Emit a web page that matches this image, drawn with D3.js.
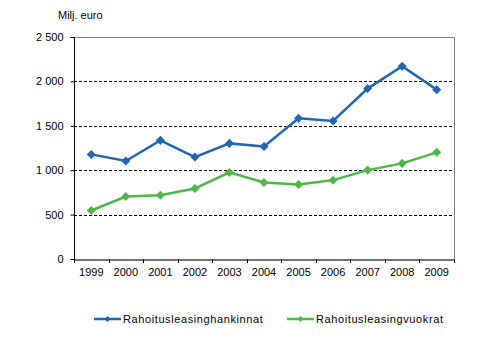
<!DOCTYPE html>
<html><head><meta charset="utf-8">
<script src="https://cdn.jsdelivr.net/npm/d3@7"></script>
<style>body{margin:0;background:#fff}svg{display:block}text{font-family:Arial,"Liberation Sans",sans-serif;font-size:11px;fill:#000}</style>
</head><body>
<svg id="c" width="494" height="355"></svg>
<script>
const years = ["1999","2000","2001","2002","2003","2004","2005","2006","2007","2008","2009"];
const hankinnat = [1178,1103,1336,1148,1302,1268,1584,1554,1919,2171,1907];
const vuokrat = [546,704,719,794,975,862,840,888,1001,1077,1201];
const yTicks = [0,500,1000,1500,2000,2500];
const seriesNames = ["Rahoitusleasinghankinnat","Rahoitusleasingvuokrat"];
const colors = ["#1f67b2","#4db848"];

const svg = d3.select("#c");
const L=74, R=454, T=37, B=259;
const x = d3.scaleBand().domain(years).range([L,R]);
const y = d3.scaleLinear().domain([0,2500]).range([B,T]);
const fmt = v => d3.format(",")(v).replace(/,/g," ");

// grid
svg.append("g").selectAll("line").data(yTicks.filter(d=>d>0&&d<2500)).join("line")
  .attr("x1",L).attr("x2",R).attr("y1",d=>Math.round(y(d))+0.5).attr("y2",d=>Math.round(y(d))+0.5)
  .attr("stroke","#000").attr("stroke-width",1).attr("stroke-dasharray","3,2");
// top & right border
svg.append("path").attr("d",`M${L},${Math.round(y(2500))+0.5}H${R+0.5}V${B}`)
  .attr("fill","none").attr("stroke","#808080").attr("stroke-width",1);

// y axis
const ya = svg.append("g").attr("transform",`translate(${L+0.5},0)`)
  .call(d3.axisLeft(y).tickValues(yTicks).tickFormat(fmt).tickSize(4).tickPadding(7));
ya.select(".domain").attr("stroke","#000").attr("d",`M-4,${T+0.5}H0V${B+4}`);
ya.selectAll("text").style("font-size","11px").attr("font-family","Arial,'Liberation Sans',sans-serif");

// x axis
const xa = svg.append("g").attr("transform",`translate(0,${B+0.5})`)
  .call(d3.axisBottom(x).tickSize(0).tickPadding(9));
xa.select(".domain").attr("stroke","#444").attr("stroke-width",1.3);
xa.selectAll("text").style("font-size","11px").attr("font-family","Arial,'Liberation Sans',sans-serif");
svg.append("g").selectAll("line").data(years).join("line")
  .attr("x1",(d,i)=>Math.round(L+x.step()*(i+1))+0.5).attr("x2",(d,i)=>Math.round(L+x.step()*(i+1))+0.5)
  .attr("y1",B).attr("y2",B+4).attr("stroke","#000");

svg.append("text").attr("x",58).attr("y",19).text("Milj. euro");

const data=[hankinnat,vuokrat];
const cx = d=>x(d)+x.bandwidth()/2;
const diamond = d3.symbol().type(d3.symbolDiamond2).size(52);
data.forEach((vals,k)=>{
  const line = d3.line().x((d,i)=>cx(years[i])).y(d=>y(d));
  svg.append("path").datum(vals).attr("d",line).attr("fill","none")
    .attr("stroke",colors[k]).attr("stroke-width",2.5);
  svg.append("g").selectAll("path").data(vals).join("path")
    .attr("transform",(d,i)=>`translate(${cx(years[i])},${y(d)})`)
    .attr("d",diamond).attr("fill",colors[k]);
});

// legend
const lx=[94,287];
seriesNames.forEach((n,k)=>{
  const g=svg.append("g");
  g.append("line").attr("x1",lx[k]).attr("x2",lx[k]+27).attr("y1",319).attr("y2",319)
    .attr("stroke",colors[k]).attr("stroke-width",2.5);
  g.append("path").attr("transform",`translate(${lx[k]+13.5},319)`)
    .attr("d",d3.symbol().type(d3.symbolDiamond2).size(24)).attr("fill",colors[k]);
  g.append("text").attr("x",lx[k]+29).attr("y",323).style("letter-spacing","0.6px").text(n);
});
</script>
</body></html>
